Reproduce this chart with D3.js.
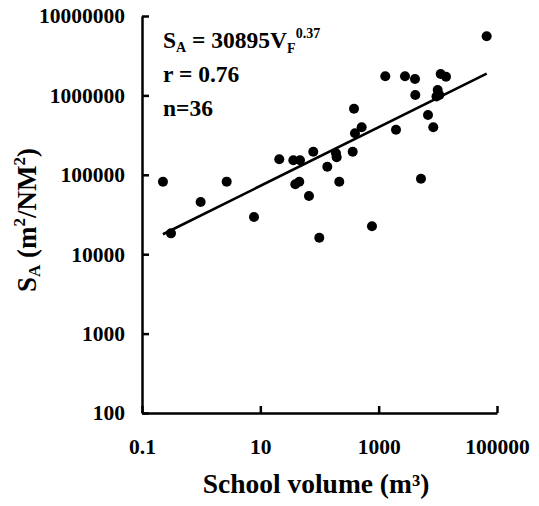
<!DOCTYPE html>
<html>
<head>
<meta charset="utf-8">
<script src="https://cdn.jsdelivr.net/npm/d3@7"></script>
<style>
  html, body { margin: 0; padding: 0; background: #fff; }
  svg text { font-family: "Liberation Serif", "Times New Roman", serif; font-weight: bold; fill: #000; }
</style>
</head>
<body>
<div id="vis"></div>
<script>
// School volume (m3) vs SA (m2/NM2)
const volume = [0.226, 0.309, 0.98, 2.70, 7.81, 20.9, 36.1, 46.8, 78.5, 39.0, 45.5, 66.4,
  99.2, 135.5, 190, 195, 216, 364, 383, 398, 516, 771, 1294, 1963, 2786, 4110, 4160,
  5190, 6820, 8380, 9940, 10590, 11170, 13740, 66900, 9490];
const sa = [81900, 18300, 45400, 82000, 29400, 156700, 152300, 152300, 195400, 75900, 81900, 54100,
  16100, 126500, 186600, 166000, 81900, 195400, 680000, 333000, 396500, 22500, 1741000, 370000,
  1741000, 1610000, 1012000, 89300, 566000, 396500, 1170000, 1012000, 1861000, 1721000, 5550000, 968000];

const xTicks = [0.1, 10, 1000, 100000];
const yTicks = [100, 1000, 10000, 100000, 1000000, 10000000];

// fit: SA = 30895 * V^0.37
const coef = 30895, expo = 0.37;

const width = 539, height = 506;

const svg = d3.select("#vis").append("svg")
  .attr("width", width)
  .attr("height", height);

const x = d3.scaleLog().domain([0.1, 100000]).range([142, 497]);
const y = d3.scaleLog().domain([100, 10000000]).range([413, 16]);

// axes
const xAxis = svg.append("g")
  .attr("transform", `translate(0,${y(100)})`)
  .call(d3.axisBottom(x).tickValues(xTicks).tickFormat(d => String(d))
    .tickSizeInner(-7).tickSizeOuter(0).tickPadding(26));

const yAxis = svg.append("g")
  .attr("transform", `translate(${x(0.1)},0)`)
  .call(d3.axisLeft(y).tickValues(yTicks).tickFormat(d => String(d))
    .tickSizeInner(-7).tickSizeOuter(0).tickPadding(17));

[xAxis, yAxis].forEach(a => {
  a.select(".domain").attr("stroke", "#000").attr("stroke-width", 2.5);
  a.selectAll(".tick line").attr("stroke", "#000").attr("stroke-width", 2.5);
  a.selectAll(".tick text")
    .style("font-family", '"Liberation Serif", "Times New Roman", serif')
    .style("font-weight", "bold")
    .style("font-size", "21.5px")
    .attr("fill", "#000");
});

// regression line across the data range
const vMin = d3.min(volume), vMax = d3.max(volume);
const fitPts = [vMin, vMax].map(v => [v, coef * Math.pow(v, expo)]);
svg.append("path")
  .datum(fitPts)
  .attr("d", d3.line().x(d => x(d[0])).y(d => y(d[1])))
  .attr("fill", "none")
  .attr("stroke", "#000")
  .attr("stroke-width", 2.6);

// points
svg.append("g").selectAll("circle")
  .data(volume.map((v, i) => [v, sa[i]]))
  .join("circle")
  .attr("cx", d => x(d[0]))
  .attr("cy", d => y(d[1]))
  .attr("r", 5)
  .attr("fill", "#000");

// x title
svg.append("text")
  .attr("x", 316)
  .attr("y", 493)
  .attr("text-anchor", "middle")
  .style("font-size", "27.5px")
  .text("School volume (m³)");

// y title
const yl = svg.append("text")
  .attr("transform", "translate(36,220) rotate(-90)")
  .attr("text-anchor", "middle")
  .style("font-size", "27px");
yl.append("tspan").text("S");
yl.append("tspan").attr("dy", 4).style("font-size", "17px").text("A");
yl.append("tspan").attr("dy", -4).text(" (m");
yl.append("tspan").attr("dy", -11).style("font-size", "17px").text("2");
yl.append("tspan").attr("dy", 11).text("/NM");
yl.append("tspan").attr("dy", -11).style("font-size", "17px").text("2");
yl.append("tspan").attr("dy", 11).text(")");

// equation block
const eq = svg.append("text")
  .attr("x", 163)
  .attr("y", 48)
  .style("font-size", "23.5px");
eq.append("tspan").text("S");
eq.append("tspan").attr("dy", 4).style("font-size", "14px").text("A");
eq.append("tspan").attr("dy", -4).text(" = 30895V");
eq.append("tspan").attr("dy", 5).style("font-size", "14px").text("F");
eq.append("tspan").attr("dy", -15).style("font-size", "14px").text("0.37");

svg.append("text").attr("x", 163).attr("y", 82).style("font-size", "23.5px").text("r = 0.76");
svg.append("text").attr("x", 163).attr("y", 116).style("font-size", "23.5px").text("n=36");
</script>
</body>
</html>
